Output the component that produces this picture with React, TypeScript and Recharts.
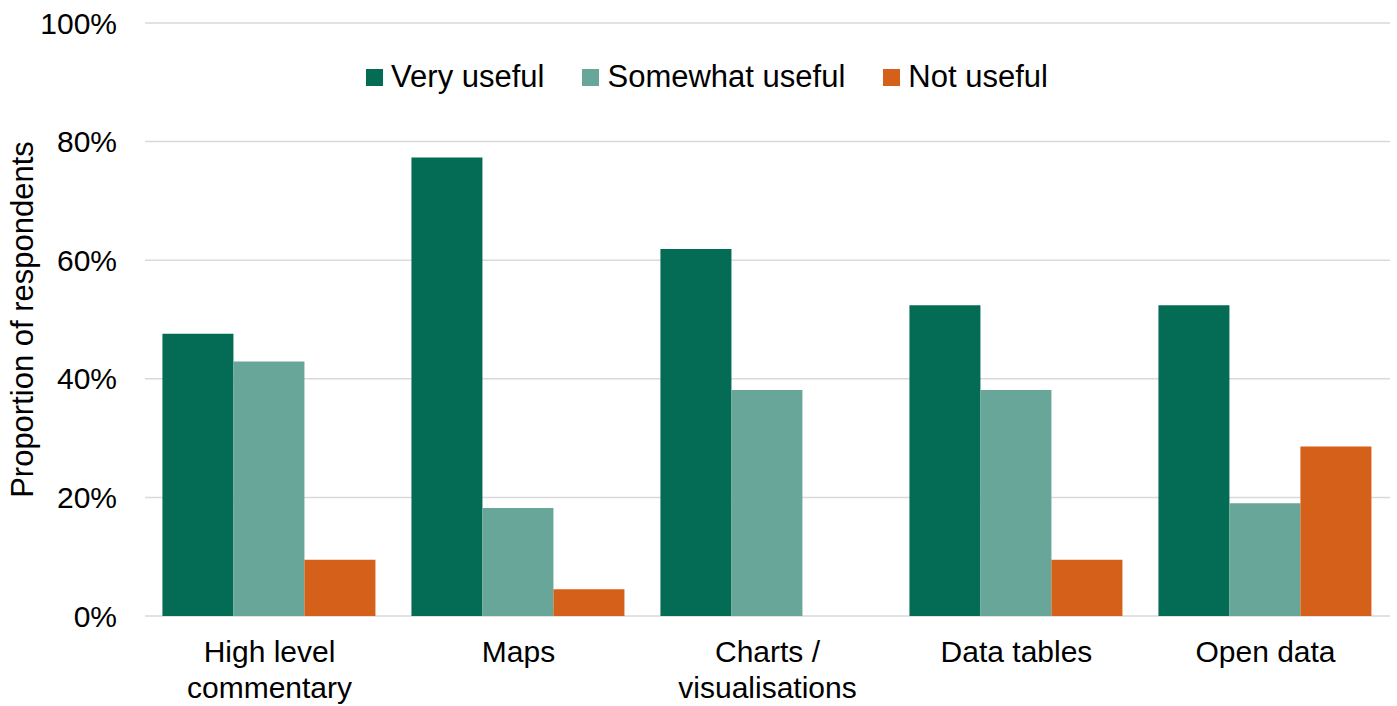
import { BarChart, Bar, XAxis, YAxis, CartesianGrid, Legend } from 'recharts'

const categories = ['High level commentary', 'Maps', 'Charts / visualisations', 'Data tables', 'Open data']
const veryUseful = [47.6, 77.3, 61.9, 52.4, 52.4]
const somewhatUseful = [42.9, 18.2, 38.1, 38.1, 19.0]
const notUseful = [9.5, 4.5, 0, 9.5, 28.6]
const yTicks = [0, 20, 40, 60, 80, 100]
const seriesOrder = ['Very useful', 'Somewhat useful', 'Not useful']

const FONT = 'Liberation Sans, Arial, sans-serif'

const data = categories.map((name, i) => ({
  name,
  very: veryUseful[i],
  somewhat: somewhatUseful[i],
  not: notUseful[i],
}))

// simple word wrap, ~13 chars per line
function wrap(label: string) {
  const lines: string[] = []
  let cur = ''
  for (const w of label.split(' ')) {
    const next = cur ? cur + ' ' + w : w
    if (next.length > 13 && cur) {
      lines.push(cur)
      cur = w
    } else cur = next
  }
  if (cur) lines.push(cur)
  return lines
}

function CatTick({ x, y, payload }: any) {
  const lines = wrap(payload.value)
  return (
    <text x={x} y={y + 46} textAnchor="middle" fontSize={30} fontFamily={FONT} fill="#000">
      {lines.map((l, i) => (
        <tspan key={i} x={x} dy={i === 0 ? 0 : 36}>
          {l}
        </tspan>
      ))}
    </text>
  )
}

function LegendRow({ payload }: any) {
  const items = [...(payload || [])].sort(
    (a: any, b: any) => seriesOrder.indexOf(a.value) - seriesOrder.indexOf(b.value)
  )
  return (
    <div style={{ display: 'flex', justifyContent: 'center', gap: 38, fontFamily: FONT, fontSize: 31 }}>
      {items.map((p: any) => (
        <div key={p.value} style={{ display: 'flex', alignItems: 'center' }}>
          <span style={{ width: 17, height: 17, background: p.color, display: 'inline-block', marginRight: 8 }} />
          <span style={{ color: '#000' }}>{p.value}</span>
        </div>
      ))}
    </div>
  )
}

export default function App() {
  return (
    <div style={{ position: 'absolute', left: 0, top: 0, background: '#fff' }}>
      <BarChart
        width={1397}
        height={706}
        data={data}
        margin={{ top: 23, right: 7, bottom: 0, left: 0 }}
        barCategoryGap="7%"
        barGap={0}
      >
        <CartesianGrid vertical={false} stroke="#d9d9d9" strokeWidth={1.5} />
        <XAxis
          dataKey="name"
          height={90}
          axisLine={false}
          tickLine={false}
          tickSize={0}
          tickMargin={0}
          interval={0}
          tick={<CatTick />}
        />
        <YAxis
          width={145}
          domain={[0, 100]}
          ticks={yTicks}
          tickFormatter={(v: number) => `${v}%`}
          axisLine={false}
          tickLine={false}
          tickSize={0}
          tickMargin={28}
          tick={{ fontSize: 30, fill: '#000', fontFamily: FONT }}
          label={{
            value: 'Proportion of respondents',
            angle: -90,
            position: 'insideLeft',
            offset: 22,
            style: { textAnchor: 'middle', fontSize: 31, fill: '#000', fontFamily: FONT },
          }}
        />
        <Legend
          verticalAlign="middle"
          align="center"
          content={<LegendRow />}
          wrapperStyle={{ top: 59, left: 145, width: 1124 }}
        />
        <Bar dataKey="very" name="Very useful" fill="#046b54" isAnimationActive={false} />
        <Bar dataKey="somewhat" name="Somewhat useful" fill="#67a699" isAnimationActive={false} />
        <Bar dataKey="not" name="Not useful" fill="#d46019" isAnimationActive={false} />
      </BarChart>
    </div>
  )
}
